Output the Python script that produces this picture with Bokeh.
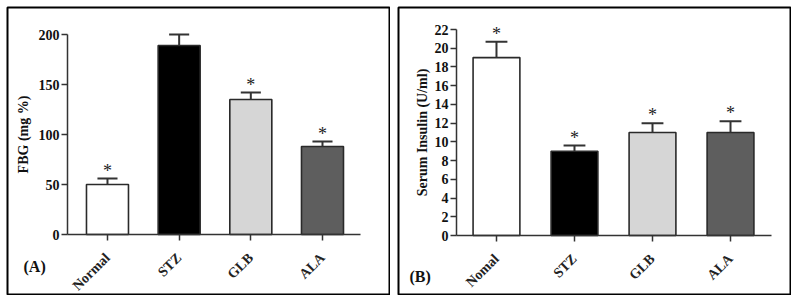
from bokeh.plotting import figure
from bokeh.layouts import row
from bokeh.models import Range1d, LinearAxis, FixedTicker, Label, ColumnDataSource
from bokeh.embed import file_html
from bokeh.resources import INLINE
from math import pi

categories_a = ["Normal", "STZ", "GLB", "ALA"]
categories_b = ["Nomal", "STZ", "GLB", "ALA"]
fbg_mean = [50, 189, 135, 88]
fbg_err = [6, 11, 7, 5]
fbg_sig = ["*", "", "*", "*"]
ins_mean = [19, 9, 11, 11]
ins_err = [1.7, 0.6, 1.0, 1.2]
ins_sig = ["*", "*", "*", "*"]
fbg_ticks = [0, 50, 100, 150, 200]
ins_ticks = [0, 2, 4, 6, 8, 10, 12, 14, 16, 18, 20, 22]
bar_colors = ["#ffffff", "#000000", "#d6d6d6", "#5e5e5e"]

FONT = "Liberation Serif"
AXC = "#333333"


def panel(width, cats, mean, err, sig, ticks, ylabel, tag, xr, yr, ax_x, ax_end, bw, cap,
          tag_x, tag_y, lab_std):
    p = figure(width=width, height=289, output_backend="svg", toolbar_location=None,
               x_range=Range1d(*xr), y_range=Range1d(*yr),
               x_axis_type=None, y_axis_type=None, min_border=1)
    p.grid.visible = False
    p.outline_line_color = "black"
    p.outline_line_width = 2
    p.background_fill_color = "white"

    xs = list(range(1, len(cats) + 1))
    tops = [m + e for m, e in zip(mean, err)]
    src = ColumnDataSource(dict(x=xs, top=mean, err=tops, color=bar_colors, sig=sig,
                                cl=[x - cap for x in xs], cr=[x + cap for x in xs]))
    p.vbar(x="x", top="top", bottom=0, width=bw, fill_color="color", line_color="#2a2a2a",
           line_width=1.6, source=src)
    p.segment(x0="x", y0="top", x1="x", y1="err", line_color="#333333", line_width=2, source=src)
    p.segment(x0="cl", y0="err", x1="cr", y1="err", line_color="#333333", line_width=2, source=src)
    p.text(x="x", y="err", text="sig", text_align="center", text_baseline="bottom",
           y_offset=2, text_font={"value": FONT}, text_font_size="18px",
           text_color="#222222", source=src)

    xa = LinearAxis(fixed_location=0, bounds=(ax_x, ax_end),
                    ticker=FixedTicker(ticks=xs),
                    major_label_overrides={x: c for x, c in zip(xs, cats)})
    xa.major_label_orientation = pi / 4
    xa.major_label_text_font = FONT
    xa.major_label_text_font_style = "bold"
    xa.major_label_text_font_size = "14px"
    xa.major_label_text_color = "#222222"
    xa.major_label_standoff = 15
    xa.major_tick_in = 0
    xa.major_tick_out = 6
    xa.minor_tick_line_color = None
    xa.axis_line_color = AXC
    xa.axis_line_width = 1.5
    xa.major_tick_line_color = AXC
    xa.major_tick_line_width = 1.5
    p.add_layout(xa, "below")

    ya = LinearAxis(fixed_location=ax_x, bounds=(ticks[0], ticks[-1]),
                    ticker=FixedTicker(ticks=ticks), axis_label=ylabel)
    ya.major_label_text_font = FONT
    ya.major_label_text_font_style = "bold"
    ya.major_label_text_font_size = "14px"
    ya.major_label_text_color = "#111111"
    ya.major_label_standoff = 2
    ya.axis_label_text_font = FONT
    ya.axis_label_text_font_style = "bold"
    ya.axis_label_text_font_size = "14px"
    ya.axis_label_text_color = "#111111"
    ya.axis_label_standoff = lab_std
    ya.major_tick_in = 0
    ya.major_tick_out = 6
    ya.minor_tick_line_color = None
    ya.axis_line_color = AXC
    ya.axis_line_width = 1.5
    ya.major_tick_line_color = AXC
    ya.major_tick_line_width = 1.5
    p.add_layout(ya, "left")

    p.add_layout(Label(x=tag_x, y=tag_y, x_units="screen", y_units="screen", text=tag,
                       text_font=FONT, text_font_style="bold", text_font_size="16px",
                       text_baseline="middle", text_color="#111111"))
    return p


pa = panel(384, categories_a, fbg_mean, fbg_err, fbg_sig, fbg_ticks, "FBG (mg %)", "(A)",
           xr=(-0.395, 4.935), yr=(-60, 227), ax_x=0.442, ax_end=4.53, bw=0.586, cap=0.14,
           tag_x=16, tag_y=28, lab_std=5)
pb = panel(394, categories_b, ins_mean, ins_err, ins_sig, ins_ticks, "Serum Insulin (U/ml)", "(B)",
           xr=(-0.256, 4.769), yr=(-6.30, 24.35), ax_x=0.487, ax_end=4.526, bw=0.6, cap=0.14,
           tag_x=11, tag_y=18, lab_std=2)

layout = row(pa, pb, spacing=7, margin=(6, 0, 0, 6))
open("out.html", "w").write(file_html(layout, INLINE))
